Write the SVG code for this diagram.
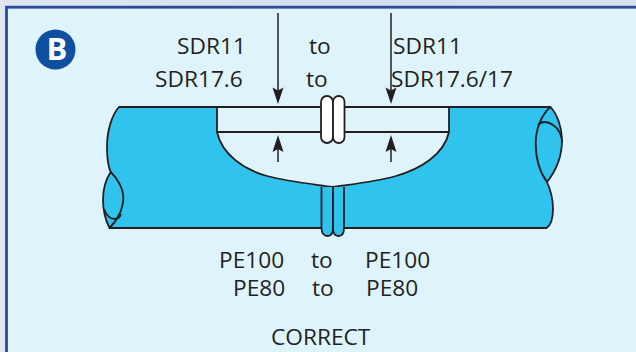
<svg xmlns="http://www.w3.org/2000/svg" width="636" height="352" viewBox="0 0 636 352">
<defs>
<linearGradient id="bg" x1="0" y1="0" x2="1" y2="0"><stop offset="0" stop-color="#dfe6f1"/><stop offset="0.5" stop-color="#d3e1ee"/><stop offset="1" stop-color="#d8e2ef"/></linearGradient>
</defs>
<style>
.l{fill:none;stroke:#231f20;stroke-width:1.8}
.p{fill:#30c3ee;stroke:#231f20;stroke-width:1.8}
.w{fill:#fff;stroke:#231f20;stroke-width:1.8}
.v{fill:#dff3fb;stroke:#231f20;stroke-width:1.8}
.a{fill:none;stroke:#231f20;stroke-width:1.5}
.h{fill:#231f20}
text{font-family:"Open Sans","Liberation Sans",sans-serif;font-size:22.7px;fill:#231f20}
</style>
<rect width="636" height="352" fill="url(#bg)"/>
<rect x="6.500" y="7.200" width="640" height="360" fill="#dff3fb" stroke="#2a4a9c" stroke-width="2.800"/>
<g id="badge"><circle cx="55.500" cy="49.500" r="20" fill="#0f4f9f"/><text x="57" y="60" text-anchor="middle" style="font-size:31px;font-weight:700;fill:#fff">B</text></g>
<g id="pipe">
<path class="p" d="M119 107H550.500C557 114 562 127 562 140C562 157 555 172 547 182C551 191 553 201 553 209C553 219 551 225 546.500 228H109.500C105 219 103 209 103 200C103 189 106 179 110.700 172C107 164 107 155 107 147C107 130 112 115 119 107Z"/>
<path class="v" d="M217 107V132C222 155 245 170 267 176C288 181.500 312 184 332.500 187C353 184 375 182 396 176C420 169 444 155 449 132V107Z"/>
<path class="l" d="M217 132H449"/>
<path class="l" d="M550.500 107C541 115 535.700 130 535.700 143C535.700 160 541 174 547 182"/>
<path class="l" d="M538 125C541 121 548 121 553 125C559 129 562 136 562 143"/>
<path class="l" d="M110.700 172C117 178 123.300 188 123.300 198C123.300 209 117 221 109.500 228"/>
<path class="l" d="M104 209C106 216 111 219 115 219C118 219 120 217 121 214"/>
</g>
<g id="coupler-top">
<rect class="w" x="321" y="96" width="12" height="47" rx="6"/>
<rect class="w" x="333" y="96" width="11.500" height="47" rx="5.700"/>
</g>
<g id="coupler-bottom">
<path class="p" d="M321.500 187V228C321.500 233 324 236 327.500 236C331 236 333 233 333 228V187"/>
<path class="p" d="M333 187V228C333 233 335 236 338.500 236C342 236 344 233 344 228V187"/>
</g>
<g id="connectors">
<path class="a" d="M278 13V91"/><path class="h" d="M272.500 87.500L278 90.500L283.500 87.500L278 104Z"/>
<path class="a" d="M391 13V91"/><path class="h" d="M385.500 87.500L391 90.500L396.500 87.500L391 104Z"/>
<path class="a" d="M278 162V147"/><path class="h" d="M272.500 152L278 149L283.500 152L278 135Z"/>
<path class="a" d="M391 162V147"/><path class="h" d="M385.500 152L391 149L396.500 152L391 135Z"/>
</g>
<g id="labels">
<text x="177" y="54">SDR11</text>
<text x="155" y="86.500">SDR17.6</text>
<text x="309" y="54">to</text>
<text x="306" y="86.500">to</text>
<text x="393" y="54">SDR11</text>
<text x="391" y="86.500">SDR17.6/17</text>
<text x="219" y="268">PE100</text>
<text x="233" y="296">PE80</text>
<text x="311" y="268">to</text>
<text x="312" y="296">to</text>
<text x="365" y="268">PE100</text>
<text x="366" y="296">PE80</text>
<text x="271" y="345">CORRECT</text>
</g>
</svg>
